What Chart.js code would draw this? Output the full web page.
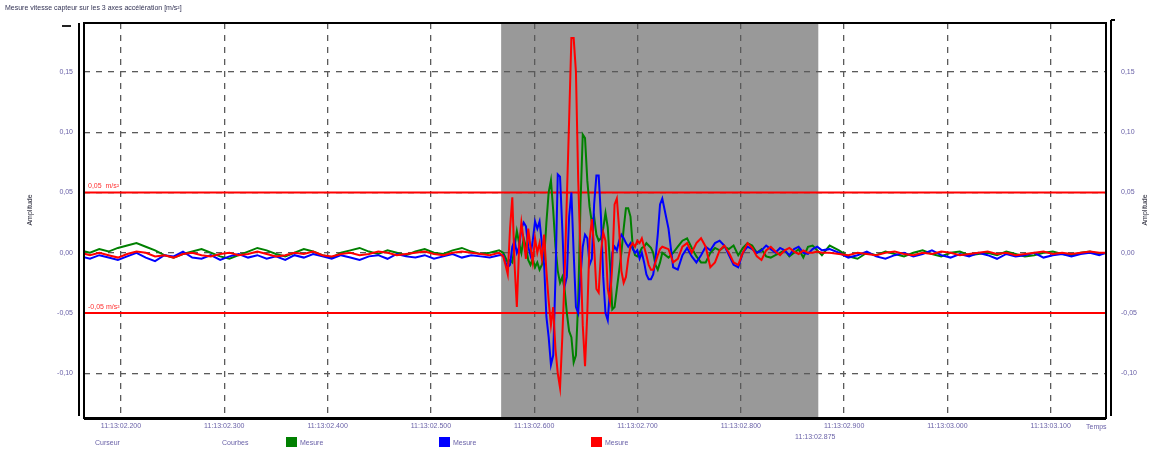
<!DOCTYPE html>
<html>
<head>
<meta charset="utf-8">
<script src="https://cdn.jsdelivr.net/npm/chart.js@4.4.1/dist/chart.umd.min.js"></script>
<style>
  html, body { margin: 0; padding: 0; background: #fff; }
  #wrap { position: relative; width: 1160px; height: 451px; }
</style>
</head>
<body>
<div id="wrap"><canvas id="grafico"></canvas></div>
<script>
// ─── Eixos ────────────────────────────────────────────────────────────────────
// tempo em segundos depois de 11:13:00
const tempoMin = 2.1642, tempoMax = 3.1535;
const ticksTempo   = [2.2, 2.3, 2.4, 2.5, 2.6, 2.7, 2.8, 2.9, 3.0, 3.1];
const rotulosTempo = ['11:13:02.200', '11:13:02.300', '11:13:02.400', '11:13:02.500', '11:13:02.600',
                      '11:13:02.700', '11:13:02.800', '11:13:02.900', '11:13:03.000', '11:13:03.100'];
const ampMin = -0.137, ampMax = 0.1905;
const ticksAmp = [-0.10, -0.05, 0, 0.05, 0.10, 0.15];
const limiares = [0.05, -0.05];
const janela   = [2.568, 2.875];          // zona cinzenta
const rotuloCursor = '11:13:02.875';

// ─── Amostras (mm/s²) ─────────────────────────────────────────────────────────
// trecho 1: antes do evento
const t1 = { inicio: 2.161, passo: 0.009 };
const verde1    = [2,0,3,1,4,6,8,5,2,-2,-4,-1,1,3,0,-3,-5,-2,1,4,2,-1,-3,0,3,1,-2,-4,0,2,4,1,-1,2,0,-2,1,3,0,-1,2,4,1,-1,0,2];
const azul1     = [-3,-5,-2,-4,-6,-3,0,-4,-7,-2,-3,1,-4,-5,-2,-6,-3,-1,-4,-2,-5,-3,-6,-2,-4,-1,-3,-5,-2,-4,-6,-3,-2,-5,-1,-3,-4,-2,-5,-3,-1,-4,-2,-3,-4,-2];
const vermelho1 = [0,-2,0,-2,-4,-1,1,0,-3,-2,-4,-1,0,-2,-3,-1,0,-2,-1,1,-1,-3,-2,0,-1,1,-2,-3,-1,0,-2,-1,1,0,-2,-1,0,1,-1,-2,0,1,0,-1,-2,0];

// trecho 2: evento
const t2 = { inicio: 2.570, passo: 0.0022 };
const verde2    = [0,-4,-8,-6,-8,5,18,8,0,12,5,-6,-10,-5,-12,-8,-14,-10,-5,25,50,60,35,5,-15,-25,-20,-30,-50,-65,
                   -70,-91,-85,-40,40,98,95,60,38,25,30,15,10,12,20,33,21,-10,-47,-45,-30,-15,0,20,37,37,30,5,-2,-3,
                   0,4,5,8,6,4,0,-10,-14,-8,0];
const azul2     = [-2,-8,-12,-10,5,10,0,5,20,25,22,5,-2,10,26,20,26,8,-10,-53,-70,-93,-85,-20,65,63,20,-28,-20,30,
                   50,0,-45,-50,-20,5,15,12,-10,-5,40,64,64,30,-20,-50,-56,-30,0,5,2,10,15,12,8,5,8,3,0,2,
                   -5,0,-8,-18,-22,-22,-18,-5,15,40,45];
const vermelho2 = [-3,-10,-18,20,46,-10,-45,5,25,10,-5,20,5,-8,12,0,8,-5,15,-15,-40,-60,-45,-80,-100,-112,-70,-20,45,110,
                   178,178,150,60,0,-60,-94,-50,10,28,5,-30,-33,0,17,10,-30,-40,-10,40,45,20,-15,-25,-20,-5,5,8,5,10,
                   8,12,5,-2,-10,-14,-14,-8,-2,3,5];

// trecho 3: amortecimento
const t3 = { inicio: 2.730, passo: 0.0045 };
const verde3    = [-4,0,5,10,12,4,-3,-8,-8,0,4,2,5,3,6,-2,4,8,6,0,3,-3,-4,-2,0,2,-3,0,3,-4,5,6,2,-2];
const azul3     = [20,-12,-14,-2,4,-3,-8,-2,5,2,8,10,6,-2,-10,-12,0,5,3,0,2,6,3,0,4,2,-2,3,5,0,-1,3,5,2];
const vermelho3 = [3,-8,-5,5,8,0,8,12,5,-12,-8,2,6,0,-8,-10,0,8,4,-3,-6,2,5,1,-2,2,4,1,-1,2,0,0,1,0];

// trecho 4: depois do evento
const t4 = { inicio: 2.886, passo: 0.009 };
const verde4    = [6,2,-3,-5,0,-2,1,-1,-3,0,2,-1,-3,0,1,-2,-1,0,-2,1,-1,-3,-2,0,1,-1,-2,0,1,-1,0];
const azul4     = [3,0,-4,-2,1,-3,-5,-2,0,-3,-1,2,-2,-4,-1,-3,0,-2,-5,-1,-3,-2,0,-4,-2,-1,-3,-1,0,-2,1];
const vermelho4 = [0,-1,-2,0,-1,-2,0,1,-1,-2,0,-1,1,0,-2,-1,0,1,-1,0,-2,-1,0,1,-1,0,-1,0,1,0,0];

const trechos = [t1, t2, t3, t4];

function pontos(...series) {
  const out = [];
  series.forEach((vals, k) => {
    const { inicio, passo } = trechos[k];
    vals.forEach((v, i) => out.push({ x: inicio + i * passo, y: v / 1000 }));
  });
  return out;
}

const fmt = v => v.toFixed(2).replace('.', ',');
const corTexto = '#6a62a8';

// ─── Decoração: zona, molduras, textos, legenda ───────────────────────────────
const decoracao = {
  id: 'decoracao',
  beforeDraw(chart) {
    const { ctx, chartArea: a, scales: { x } } = chart;
    const x0 = x.getPixelForValue(janela[0]), x1 = x.getPixelForValue(janela[1]);
    ctx.save();
    ctx.fillStyle = '#999999';
    ctx.fillRect(x0, a.top, x1 - x0, a.bottom - a.top);
    ctx.restore();
  },
  afterDraw(chart) {
    const { ctx, chartArea: a, scales: { x, y } } = chart;
    ctx.save();
    // molduras
    ctx.strokeStyle = '#000';
    ctx.lineWidth = 2;
    ctx.strokeRect(a.left, a.top, a.right - a.left, a.bottom - a.top);
    ctx.lineWidth = 3;
    ctx.beginPath(); ctx.moveTo(a.left, a.bottom + 0.5); ctx.lineTo(a.right, a.bottom + 0.5); ctx.stroke();
    ctx.lineWidth = 2;
    ctx.beginPath();
    ctx.moveTo(a.left - 5, a.top); ctx.lineTo(a.left - 5, a.bottom - 2);
    ctx.moveTo(a.right + 5, a.top - 3); ctx.lineTo(a.right + 5, a.bottom - 2);
    ctx.moveTo(a.right + 5, a.top - 3); ctx.lineTo(a.right + 9, a.top - 3);
    ctx.stroke();
    ctx.fillStyle = '#222';
    ctx.fillRect(a.left - 22, a.top + 2, 9, 2);

    // rótulos dos limiares
    ctx.font = '7px "Liberation Sans", Arial, sans-serif';
    ctx.fillStyle = '#ff3030';
    ctx.textAlign = 'left';
    ctx.textBaseline = 'bottom';
    ctx.fillText(fmt(limiares[0]) + '  m/s²', a.left + 4, y.getPixelForValue(limiares[0]) - 3);
    ctx.fillText(fmt(limiares[1]) + ' m/s²', a.left + 4, y.getPixelForValue(limiares[1]) - 3);

    // título
    ctx.textBaseline = 'middle';
    ctx.fillStyle = '#333355';
    ctx.fillText('Mesure vitesse capteur sur les 3 axes accélération [m/s²]', 5, 8);

    // títulos dos eixos
    ctx.fillStyle = '#223';
    ctx.textAlign = 'center';
    [[30, 210], [1145, 210]].forEach(([px, py]) => {
      ctx.save(); ctx.translate(px, py); ctx.rotate(-Math.PI / 2);
      ctx.fillText('Amplitude', 0, 0); ctx.restore();
    });

    // Temps + cursor
    ctx.fillStyle = corTexto;
    ctx.textAlign = 'left';
    ctx.fillText('Temps', 1086, 427);
    ctx.textAlign = 'center';
    ctx.fillText(rotuloCursor, x.getPixelForValue(janela[1]) - 3, 437);

    // legenda
    ctx.textAlign = 'left';
    ctx.fillText('Curseur', 95, 443);
    ctx.fillText('Courbes', 222, 443);
    [['#008000', 286], ['#0000ff', 439], ['#ff0000', 591]].forEach(([cor, px]) => {
      ctx.fillStyle = cor;
      ctx.fillRect(px, 437, 11, 10);
      ctx.fillStyle = corTexto;
      ctx.fillText('Mesure', px + 14, 443);
    });
    ctx.restore();
  }
};

// ─── Gráfico ──────────────────────────────────────────────────────────────────
const serie = (label, cor, dados, ordem) => ({
  label, data: dados, borderColor: cor, backgroundColor: cor,
  borderWidth: 2, pointRadius: 0, tension: 0, order: ordem,
});

const fonteTick = { size: 7, family: '"Liberation Sans", Arial, sans-serif' };

new Chart(document.getElementById('grafico'), {
  type: 'line',
  data: {
    datasets: [
      serie('Limite +', '#ff0000', [{ x: tempoMin, y: limiares[0] }, { x: tempoMax, y: limiares[0] }], 5),
      serie('Limite -', '#ff0000', [{ x: tempoMin, y: limiares[1] }, { x: tempoMax, y: limiares[1] }], 5),
      serie('Verde',    '#008000', pontos(verde1, verde2, verde3, verde4), 3),
      serie('Azul',     '#0000ff', pontos(azul1, azul2, azul3, azul4), 2),
      serie('Vermelho', '#ff0000', pontos(vermelho1, vermelho2, vermelho3, vermelho4), 1),
    ],
  },
  options: {
    responsive: true,
    maintainAspectRatio: false,
    animation: false,
    layout: { padding: { top: 23, left: 0, right: 0, bottom: 0 } },
    plugins: { legend: { display: false }, tooltip: { enabled: false } },
    scales: {
      x: {
        type: 'linear', min: tempoMin, max: tempoMax,
        afterFit: s => { s.height = 33; },
        afterBuildTicks: s => { s.ticks = ticksTempo.map(v => ({ value: v })); },
        ticks: { callback: (v, i) => rotulosTempo[i], font: fonteTick, color: corTexto,
                 maxRotation: 0, autoSkip: false, padding: 4 },
        grid: { color: '#5a5a5a', lineWidth: 1.3, drawTicks: false },
        border: { display: false, dash: [6, 6] },
      },
      y: {
        position: 'left', min: ampMin, max: ampMax,
        afterFit: s => { s.width = 84; },
        afterBuildTicks: s => { s.ticks = ticksAmp.map(v => ({ value: v })); },
        ticks: { callback: v => fmt(v), font: fonteTick, color: corTexto, padding: 11 },
        grid: { color: '#5a5a5a', lineWidth: 1.3, drawTicks: false },
        border: { display: false, dash: [6, 6] },
      },
      y2: {
        position: 'right', min: ampMin, max: ampMax,
        afterFit: s => { s.width = 54; },
        afterBuildTicks: s => { s.ticks = ticksAmp.map(v => ({ value: v })); },
        ticks: { callback: v => fmt(v), font: fonteTick, color: corTexto, padding: 7 },
        grid: { display: false },
        border: { display: false },
      },
    },
  },
  plugins: [decoracao],
});
</script>
</body>
</html>
